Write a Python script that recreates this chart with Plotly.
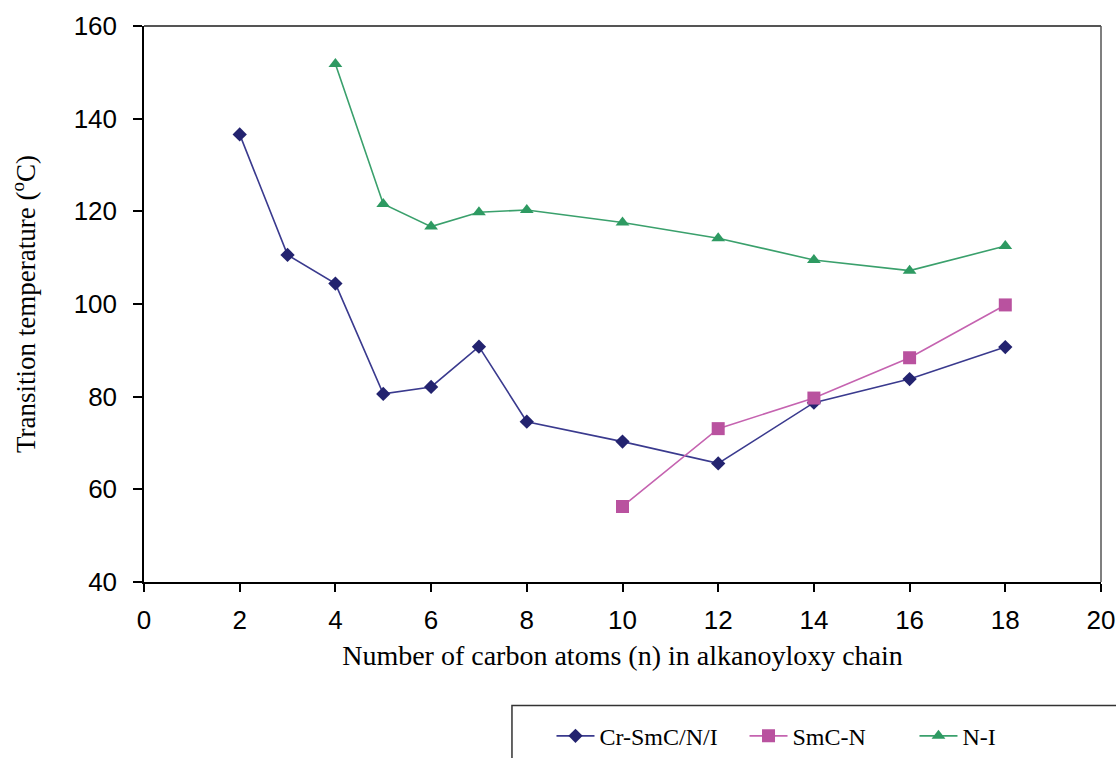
import plotly.graph_objects as go

# Data
n_cr = [2, 3, 4, 5, 6, 7, 8, 10, 12, 14, 16, 18]
t_cr = [136.6, 110.6, 104.4, 80.6, 82.1, 90.8, 74.6, 70.3, 65.6, 78.7, 83.8, 90.7]
n_smc = [10, 12, 14, 16, 18]
t_smc = [56.3, 73.1, 79.7, 88.4, 99.8]
n_ni = [4, 5, 6, 7, 8, 10, 12, 14, 16, 18]
t_ni = [151.8, 121.6, 116.7, 119.8, 120.3, 117.6, 114.2, 109.5, 107.2, 112.5]

x_ticks = [0, 2, 4, 6, 8, 10, 12, 14, 16, 18, 20]
y_ticks = [40, 60, 80, 100, 120, 140, 160]

names = ["Cr-SmC/N/I", "SmC-N", "N-I"]
line_colors = ["#3a3a8e", "#c563b0", "#3aa06c"]
marker_colors = ["#23236f", "#b9529f", "#2e9a62"]
symbols = ["diamond", "square", "triangle-up"]
sizes = [11, 13, 12]
legend_ids = ["legend", "legend2", "legend3"]
legend_x = [0.4258, 0.6275, 0.8051]

serif = "Liberation Serif, Times New Roman, serif"
sans = "Liberation Sans, Arial, sans-serif"

fig = go.Figure()
for xs, ys, nm, lc, mc, sym, sz, lg in zip([n_cr, n_smc, n_ni], [t_cr, t_smc, t_ni],
                                           names, line_colors, marker_colors, symbols,
                                           sizes, legend_ids):
    fig.add_trace(go.Scatter(x=xs, y=ys, name=nm, mode="lines+markers",
                             line=dict(color=lc, width=1.6),
                             marker=dict(symbol=sym, size=sz, color=mc,
                                         line=dict(width=0)),
                             cliponaxis=False, legend=lg))

legend_common = dict(orientation="h", xanchor="left", y=-0.2774, yanchor="middle",
                     font=dict(family=serif, size=24, color="black"),
                     bgcolor="rgba(0,0,0,0)", borderwidth=0, itemwidth=38)

fig.update_layout(
    width=1116, height=758,
    margin=dict(l=144, r=15, t=26, b=176, autoexpand=False),
    paper_bgcolor="white", plot_bgcolor="white",
    showlegend=True,
    legend=dict(x=legend_x[0], **legend_common),
    legend2=dict(x=legend_x[1], **legend_common),
    legend3=dict(x=legend_x[2], **legend_common),
    xaxis=dict(range=[0, 20], tickvals=x_ticks, ticks="outside", ticklen=8,
               tickwidth=1.5, tickcolor="black", showline=True, linecolor="black",
               linewidth=1.5, showgrid=False, zeroline=False,
               tickfont=dict(family=sans, size=26, color="black"),
               ticklabelstandoff=6,
               title=dict(text="Number of carbon atoms (n) in alkanoyloxy chain",
                          font=dict(family=serif, size=28, color="black"), standoff=11)),
    yaxis=dict(range=[40, 160], tickvals=y_ticks, ticks="outside", ticklen=9,
               tickwidth=1.5, tickcolor="black", showline=True, linecolor="black",
               linewidth=1.5, showgrid=False, zeroline=False,
               tickfont=dict(family=sans, size=26, color="black"),
               ticklabelstandoff=11,
               title=dict(text="Transition temperature (<sup>o</sup>C)",
                          font=dict(family=serif, size=27, color="black"), standoff=30)),
    shapes=[
        dict(type="line", xref="paper", yref="paper", x0=0, x1=1, y0=1, y1=1,
             line=dict(color="#555555", width=2)),
        dict(type="line", xref="paper", yref="paper", x0=1, x1=1, y0=0, y1=1,
             line=dict(color="#555555", width=1.5)),
        dict(type="rect", xref="paper", yref="paper", x0=0.3845, x1=1.03,
             y0=-0.222, y1=-0.36, line=dict(color="#333333", width=1.5)),
    ],
)

fig.write_html("out.html")
